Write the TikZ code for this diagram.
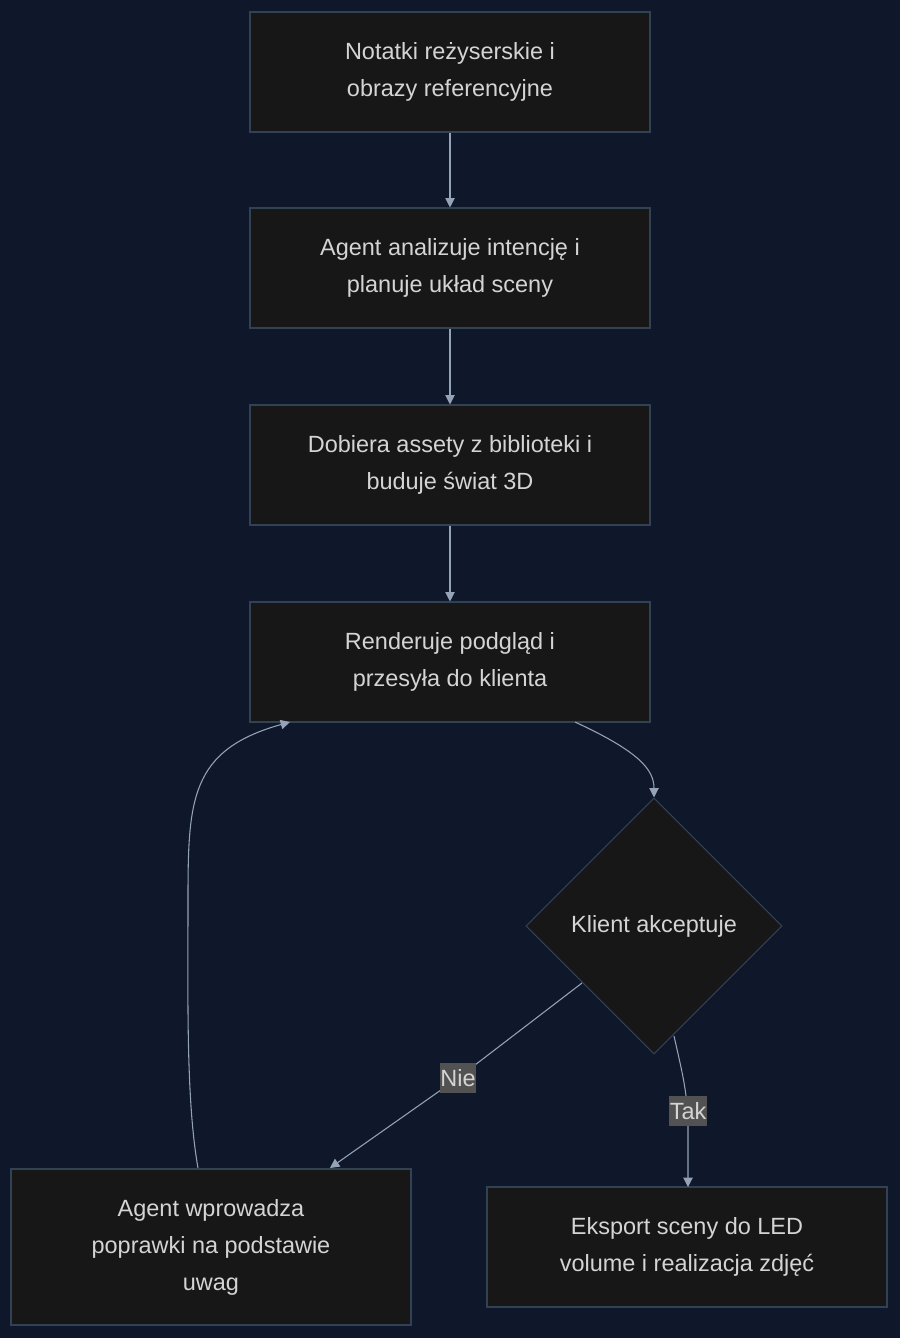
\documentclass[tikz,border=0pt]{standalone}
\usepackage{fontspec}
\setmainfont{Liberation Sans}
\usetikzlibrary{shapes.geometric,arrows.meta}
\definecolor{bgnavy}{HTML}{0F172A}
\definecolor{boxfill}{HTML}{171717}
\definecolor{boxline}{HTML}{334155}
\definecolor{txt}{HTML}{D4D4D4}
\definecolor{wire}{HTML}{94A3B8}
\definecolor{lblfill}{HTML}{525252}
\tikzset{
  stage/.style={draw=boxline,fill=boxfill,text=txt,minimum width=300pt,minimum height=90pt,
    align=center,font=\fontsize{17.6}{27.75}\selectfont,line width=0.8pt},
  choice/.style={diamond,draw=boxline,fill=boxfill,text=txt,minimum width=192pt,minimum height=192pt,
    aspect=1,inner sep=0pt,font=\fontsize{17.6}{27.75}\selectfont,line width=0.8pt},
  flow/.style={draw=wire,line width=0.8pt,-{Triangle[length=7pt,width=7pt]}},
  tag/.style={fill=lblfill,text=txt,inner xsep=0.5pt,inner ysep=5pt,font=\fontsize{17.6}{20}\selectfont}
}
\begin{document}
\begin{tikzpicture}[x=0.75pt,y=-0.75pt]
  \fill[bgnavy] (0,0) rectangle (900,1338);
  \useasboundingbox (0,0) rectangle (900,1338);

  \node[stage] (notes) at (450,72) {Notatki reżyserskie i\\ obrazy referencyjne};
  \node[stage] (plan) at (450,268) {Agent analizuje intencję i\\ planuje układ sceny};
  \node[stage] (build) at (450,465) {Dobiera assety z biblioteki i\\ buduje świat 3D};
  \node[stage] (render) at (450,662) {Renderuje podgląd i\\ przesyła do klienta};
  \node[choice] (accept) at (654,926) {Klient akceptuje};
  \node[stage,minimum height=117pt] (fix) at (211,1247) {Agent wprowadza\\ poprawki na podstawie\\ uwag};
  \node[stage] (export) at (687,1247) {Eksport sceny do LED\\ volume i realizacja zdjęć};

  \draw[flow] (575,722) .. controls (640,752) and (654,770) .. (accept.north);
  \draw[flow] (notes) -- (plan);
  \draw[flow] (plan) -- (build);
  \draw[flow] (build) -- (render);
  \draw[flow] (582,983) -- (458,1078) node[tag] {Nie} -- (330,1168);
  \draw[flow] (674,1036) .. controls (684,1080) .. (688,1111) node[tag] {Tak} -- (688,1187);
  \draw[flow] (198,1168) .. controls (186,1100) and (188,1000) .. (188,900)
    .. controls (188,800) and (190,750) .. (290,722);
\end{tikzpicture}
\end{document}
